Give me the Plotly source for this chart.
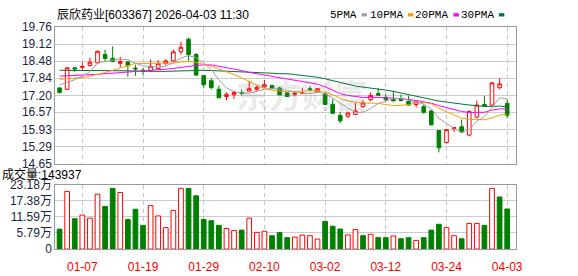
import plotly.graph_objects as go

# ---------------- data ----------------
dates = ['12-31', '01-05', '01-06', '01-07', '01-08', '01-09', '01-12', '01-13', '01-14', '01-15',
         '01-16', '01-19', '01-20', '01-21', '01-22', '01-23', '01-26', '01-27', '01-28', '01-29',
         '01-30', '02-02', '02-03', '02-04', '02-05', '02-06', '02-09', '02-10', '02-11', '02-12',
         '02-13', '02-24', '02-25', '02-26', '02-27', '03-02', '03-03', '03-04', '03-05', '03-06',
         '03-09', '03-10', '03-11', '03-12', '03-13', '03-16', '03-17', '03-18', '03-19', '03-20',
         '03-23', '03-24', '03-25', '03-26', '03-27', '03-30', '03-31', '04-01', '04-02', '04-03']

opens = [17.48, 17.43, 18.23, 18.25, 18.32, 18.42, 18.73, 18.59, 18.40, 18.45,
         18.22, 18.14, 18.12, 18.20, 18.40, 18.49, 18.83, 19.30, 18.73, 17.94,
         17.75, 17.43, 17.16, 17.22, 17.31, 17.36, 17.43, 17.52, 17.57, 17.48,
         17.30, 17.24, 17.27, 17.45, 17.34, 17.25, 16.87, 16.45, 16.42, 16.49,
         16.78, 17.04, 17.27, 17.13, 17.05, 17.09, 16.98, 16.86, 16.78, 16.62,
         15.89, 15.44, 15.96, 16.03, 15.72, 16.39, 16.86, 16.84, 17.49, 16.90]
highs = [17.50, 18.26, 18.27, 18.44, 18.61, 18.87, 18.91, 19.03, 18.64, 18.49,
         18.35, 18.22, 18.55, 18.52, 18.55, 18.91, 19.20, 19.36, 18.79, 17.96,
         17.84, 17.57, 17.31, 17.37, 17.43, 17.72, 17.57, 17.78, 17.60, 17.52,
         17.30, 17.33, 17.49, 17.55, 17.47, 17.31, 17.07, 16.57, 16.60, 16.93,
         17.02, 17.31, 17.47, 17.25, 17.37, 17.23, 17.19, 17.02, 16.86, 16.66,
         15.89, 15.92, 16.03, 16.30, 16.64, 17.01, 17.19, 17.69, 17.84, 17.05]
lows = [17.27, 17.40, 18.08, 18.16, 18.28, 18.40, 18.44, 18.44, 18.26, 17.90,
        17.93, 17.96, 18.10, 18.16, 18.32, 18.47, 18.73, 18.49, 17.92, 17.49,
        17.43, 17.11, 17.02, 17.07, 17.20, 17.36, 17.37, 17.49, 17.43, 17.22,
        17.13, 17.17, 17.25, 17.37, 17.33, 16.84, 16.53, 16.17, 16.36, 16.46,
        16.74, 16.98, 17.17, 16.96, 16.96, 16.97, 16.82, 16.75, 16.51, 16.08,
        15.07, 15.40, 15.83, 15.80, 15.67, 16.34, 16.78, 16.82, 17.43, 16.36]
closes = [17.31, 18.23, 18.19, 18.28, 18.44, 18.85, 18.58, 18.47, 18.46, 18.31,
          18.19, 18.10, 18.29, 18.40, 18.49, 18.83, 19.00, 18.73, 17.96, 17.60,
          17.49, 17.11, 17.24, 17.31, 17.28, 17.45, 17.50, 17.60, 17.45, 17.22,
          17.16, 17.28, 17.29, 17.42, 17.45, 16.86, 16.53, 16.25, 16.54, 16.62,
          16.92, 17.20, 17.21, 17.05, 17.00, 17.01, 16.84, 16.96, 16.57, 16.10,
          15.24, 15.92, 15.99, 15.83, 16.60, 16.84, 16.80, 17.67, 17.63, 16.46]

ma5 = [17.60, 17.68, 17.79, 17.92, 18.09, 18.40, 18.47, 18.52, 18.56, 18.53,
       18.40, 18.31, 18.27, 18.26, 18.29, 18.42, 18.60, 18.69, 18.60, 18.42,
       18.16, 17.78, 17.48, 17.35, 17.29, 17.28, 17.36, 17.43, 17.46, 17.44,
       17.39, 17.34, 17.28, 17.27, 17.32, 17.26, 17.11, 16.90, 16.73, 16.56,
       16.57, 16.71, 16.90, 17.00, 17.08, 17.09, 17.02, 16.97, 16.88, 16.70,
       16.34, 16.16, 15.96, 15.82, 15.92, 16.24, 16.41, 16.75, 17.11, 17.08]
ma10 = [17.80, 17.82, 17.84, 17.87, 17.92, 17.98, 18.06, 18.14, 18.23, 18.31,
        18.40, 18.39, 18.40, 18.41, 18.41, 18.41, 18.45, 18.48, 18.43, 18.36,
        18.29, 18.19, 18.09, 17.98, 17.86, 17.72, 17.57, 17.45, 17.40, 17.37,
        17.33, 17.35, 17.35, 17.37, 17.38, 17.32, 17.23, 17.09, 17.00, 16.94,
        16.92, 16.91, 16.90, 16.86, 16.82, 16.83, 16.86, 16.94, 16.94, 16.89,
        16.72, 16.59, 16.47, 16.35, 16.31, 16.29, 16.29, 16.36, 16.46, 16.50]
ma20 = [17.92, 17.93, 17.94, 17.95, 17.97, 17.99, 18.01, 18.03, 18.05, 18.07,
        18.08, 18.10, 18.12, 18.15, 18.18, 18.21, 18.25, 18.29, 18.32, 18.34,
        18.34, 18.29, 18.24, 18.19, 18.13, 18.06, 18.01, 17.97, 17.92, 17.86,
        17.81, 17.77, 17.72, 17.67, 17.62, 17.52, 17.40, 17.27, 17.20, 17.15,
        17.12, 17.13, 17.13, 17.11, 17.10, 17.08, 17.05, 17.01, 16.97, 16.91,
        16.82, 16.75, 16.68, 16.60, 16.56, 16.56, 16.57, 16.65, 16.70, 16.69]
ma30 = [18.14, 18.14, 18.14, 18.14, 18.14, 18.14, 18.14, 18.14, 18.13, 18.12,
        18.11, 18.10, 18.10, 18.10, 18.10, 18.11, 18.13, 18.14, 18.14, 18.14,
        18.13, 18.12, 18.11, 18.10, 18.08, 18.07, 18.06, 18.05, 18.03, 18.01,
        18.01, 17.98, 17.95, 17.92, 17.88, 17.82, 17.75, 17.68, 17.61, 17.55,
        17.51, 17.48, 17.45, 17.40, 17.35, 17.29, 17.22, 17.16, 17.11, 17.06,
        16.99, 16.95, 16.91, 16.86, 16.84, 16.82, 16.79, 16.79, 16.80, 16.77]

volumes = [71600, 207000, 109000, 122000, 111000, 197000, 153000, 218000, 203000, 106000,
           143000, 85000, 156000, 119000, 77000, 139000, 218000, 218000, 191000, 106000,
           102000, 85000, 74000, 67000, 68000, 111000, 60000, 64000, 48000, 59000,
           41000, 43000, 50000, 48000, 36000, 99000, 82000, 72000, 51000, 70000,
           48000, 53000, 41000, 41000, 47000, 37000, 41000, 31000, 41000, 68000,
           89000, 77000, 48000, 37000, 92000, 92000, 85000, 218000, 187000, 143937]
# volume bar colour: 'r' = red hollow, 'g' = green filled
vol_dir = ['g', 'r', 'g', 'r', 'r', 'r', 'g', 'g', 'r', 'g',
           'g', 'g', 'r', 'r', 'r', 'r', 'r', 'g', 'g', 'g',
           'g', 'g', 'r', 'r', 'g', 'r', 'r', 'r', 'g', 'g',
           'g', 'r', 'r', 'r', 'r', 'g', 'g', 'g', 'r', 'r',
           'g', 'r', 'g', 'g', 'r', 'g', 'g', 'r', 'g', 'g',
           'g', 'r', 'r', 'g', 'r', 'r', 'g', 'r', 'g', 'g']

price_ticks = [14.65, 15.29, 15.93, 16.57, 17.20, 17.84, 18.48, 19.12, 19.76]
price_tick_text = ['14.65', '15.29', '15.93', '16.57', '17.20', '17.84', '18.48', '19.12', '19.76']
vol_ticks = [0, 5.79, 11.59, 17.38, 23.18]
vol_tick_text = ['0', '5.79万', '11.59万', '17.38万', '23.18万']
x_tick_dates = ['01-07', '01-19', '01-29', '02-10', '03-02', '03-12', '03-24', '04-03']

title_text = '辰欣药业[603367] 2026-04-03 11:30'
ma_names = ['5PMA', '10PMA', '20PMA', '30PMA']
ma_colors = ['#a0a0a0', '#f5a000', '#ff00ff', '#00733a']

# ---------------- figure ----------------
W, H = 578, 276
def px(x):
    return x / W
def py(y):
    return 1 - y / H

FONT = 'Liberation Sans, Noto Sans CJK SC, sans-serif'
RED = '#ff0000'
GREEN = '#008000'

fig = go.Figure()

vols_wan = [v / 10000 for v in volumes]
up_idx = [i for i in range(len(dates)) if vol_dir[i] == 'r']
dn_idx = [i for i in range(len(dates)) if vol_dir[i] == 'g']

fig.add_trace(go.Bar(
    x=[dates[i] for i in dn_idx], y=[vols_wan[i] for i in dn_idx],
    marker=dict(color=GREEN, line=dict(color=GREEN, width=1)), width=0.62,
    xaxis='x', yaxis='y2'))
fig.add_trace(go.Bar(
    x=[dates[i] for i in up_idx], y=[vols_wan[i] for i in up_idx],
    marker=dict(color='#ffffff', line=dict(color=RED, width=1)), width=0.62,
    xaxis='x', yaxis='y2'))

for vals, col in zip([ma30, ma20, ma10, ma5], ma_colors[::-1]):
    fig.add_trace(go.Scatter(x=dates, y=vals, mode='lines',
                             line=dict(color=col, width=1), xaxis='x', yaxis='y',
                             hoverinfo='skip'))

fig.add_trace(go.Candlestick(
    x=dates, open=opens, high=highs, low=lows, close=closes,
    increasing=dict(line=dict(color=RED, width=1), fillcolor='#ffffff'),
    decreasing=dict(line=dict(color=GREEN, width=1), fillcolor=GREEN),
    whiskerwidth=0, xaxis='x', yaxis='y'))

fig.update_layout(
    width=W, height=H, margin=dict(l=0, r=0, t=0, b=0),
    paper_bgcolor='white', plot_bgcolor='white', showlegend=False,
    barmode='overlay', boxgap=0.32,
    font=dict(family=FONT, size=12, color='#1a2440'),
    xaxis=dict(type='category', categoryorder='array', categoryarray=dates,
               domain=[px(56), px(522)], range=[-0.56, 60.12],
               anchor='y2', tickvals=x_tick_dates, ticktext=x_tick_dates, tickangle=0,
               showgrid=True, gridcolor='#c4c4c4', gridwidth=1, griddash='4px,4px',
               showline=True, linecolor='#999999', linewidth=1, mirror='all',
               ticks='', ticklabelstandoff=7,
               tickfont=dict(color=RED, size=12, family=FONT),
               rangeslider=dict(visible=False), fixedrange=True),
    yaxis=dict(domain=[py(165), py(21)], range=[14.65, 19.76], anchor='x',
               tickvals=price_ticks, ticktext=price_tick_text,
               showgrid=True, gridcolor='#cccccc', gridwidth=1, zeroline=False,
               showline=True, linecolor='#999999', linewidth=1, mirror=True,
               ticks='', tickfont=dict(size=12, color='#1a2440', family=FONT)),
    yaxis2=dict(domain=[py(255), py(187)], range=[0, 23.18], anchor='x',
                tickvals=vol_ticks, ticktext=vol_tick_text,
                showgrid=True, gridcolor='#cccccc', gridwidth=1, zeroline=False,
                showline=True, linecolor='#999999', linewidth=1, mirror=True,
                ticks='', tickfont=dict(size=12, color='#1a2440', family=FONT)),
)

ann = []
ann.append(dict(text=title_text, x=px(56), y=py(8), xref='paper', yref='paper',
                xanchor='left', yanchor='middle', showarrow=False,
                font=dict(size=12, color='#000000', family=FONT)))
ann.append(dict(text='成交量:' + str(volumes[-1]), x=px(0), y=py(176.5), xref='paper', yref='paper',
                xanchor='left', yanchor='middle', showarrow=False,
                font=dict(size=12, color='#000000', family=FONT)))
ann.append(dict(text='<b>东方财富</b>', x=px(306), y=py(92), xref='paper', yref='paper',
                xanchor='center', yanchor='middle', showarrow=False,
                font=dict(size=33, color='rgba(120,120,120,0.16)', family='Noto Sans CJK SC')))

leg_text_right = [363, 410, 456, 502]
shapes = []
for name, col, xr in zip(ma_names, ma_colors, leg_text_right):
    ann.append(dict(text=name, x=px(xr), y=py(8.5), xref='paper', yref='paper',
                    xanchor='right', yanchor='middle', showarrow=False,
                    font=dict(size=11, color='#000000', family='Liberation Mono, monospace')))
    shapes.append(dict(type='rect', xref='paper', yref='paper',
                       x0=px(xr + 3), x1=px(xr + 8.5), y0=py(10), y1=py(6.5),
                       fillcolor=col, line=dict(width=0)))

fig.update_layout(annotations=ann, shapes=shapes)

fig.write_html('out.html')
